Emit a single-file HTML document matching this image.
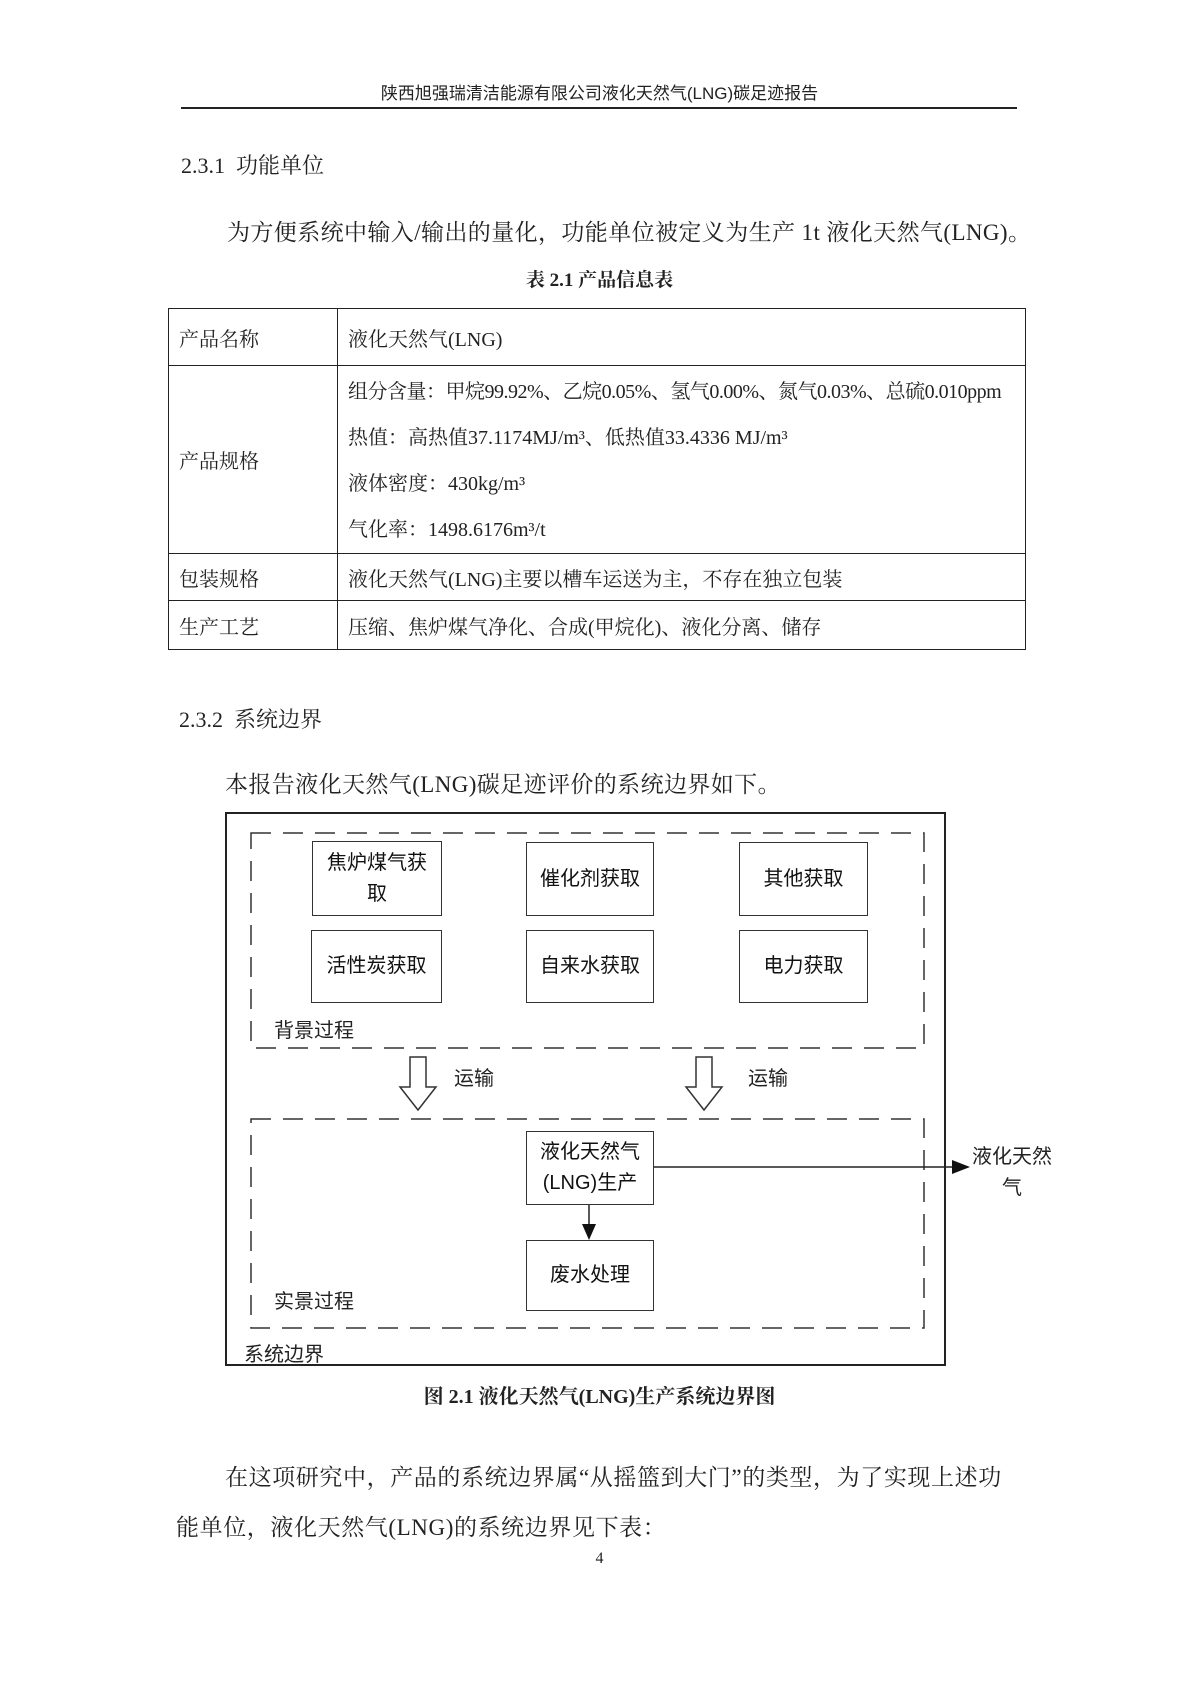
<!DOCTYPE html>
<html><head><meta charset="utf-8"><style>
body{margin:0;width:1199px;height:1696px;background:#fff;position:relative;overflow:hidden;font-family:"Liberation Serif","Noto Serif CJK SC",serif;color:#222}
.a{position:absolute;white-space:nowrap;line-height:1}
.s{font-family:"Liberation Sans","Noto Sans CJK SC",sans-serif}
.box{position:absolute;border:1.5px solid #333;box-sizing:border-box;display:flex;align-items:center;justify-content:center;text-align:center;font-family:"Liberation Sans","Noto Sans CJK SC",sans-serif;font-size:20px;line-height:31px;color:#111;background:#fff}
table{position:absolute;left:168px;top:308px;width:858px;border-collapse:collapse;font-size:20px;table-layout:fixed}
td{border:1.5px solid #222;padding:0 10px;vertical-align:middle;white-space:nowrap;overflow:hidden}
</style></head><body>
<div class="a s" style="left:0;width:1199px;text-align:center;top:85px;font-size:17px">陕西旭强瑞清洁能源有限公司液化天然气(LNG)碳足迹报告</div>
<div class="a" style="left:181px;top:107px;width:836px;border-top:2px solid #222"></div>
<div class="a" style="left:181px;top:155px;font-size:22px">2.3.1&nbsp; 功能单位</div>
<div class="a" style="left:227px;top:221px;font-size:23px;letter-spacing:0.4px">为方便系统中输入/输出的量化，功能单位被定义为生产 1t 液化天然气(LNG)。</div>
<div class="a" style="left:0;width:1199px;text-align:center;top:271px;font-size:19px;font-weight:bold">表 2.1 产品信息表</div>
<table>
<tr style="height:57px"><td style="width:148px">产品名称</td><td>液化天然气(LNG)</td></tr>
<tr style="height:188px"><td>产品规格</td><td style="line-height:46px;padding-top:2px"><span style="font-size:20px;letter-spacing:-0.5px">组分含量：甲烷99.92%、乙烷0.05%、氢气0.00%、氮气0.03%、总硫0.010ppm</span><br>热值：高热值37.1174MJ/m³、低热值33.4336 MJ/m³<br>液体密度：430kg/m³<br>气化率：1498.6176m³/t</td></tr>
<tr style="height:47px"><td>包装规格</td><td>液化天然气(LNG)主要以槽车运送为主，不存在独立包装</td></tr>
<tr style="height:49px"><td>生产工艺</td><td>压缩、焦炉煤气净化、合成(甲烷化)、液化分离、储存</td></tr>
</table>
<div class="a" style="left:179px;top:709px;font-size:22px">2.3.2&nbsp; 系统边界</div>
<div class="a" style="left:225px;top:773px;font-size:23px;letter-spacing:0.4px">本报告液化天然气(LNG)碳足迹评价的系统边界如下。</div>

<svg class="a" style="left:0;top:0" width="1199" height="1696">
<rect x="226" y="813" width="719" height="552" fill="none" stroke="#222" stroke-width="2"/>
<rect x="251" y="833" width="673" height="215" fill="none" stroke="#333" stroke-width="1.5" stroke-dasharray="20 12"/>
<rect x="251" y="1119" width="673" height="209" fill="none" stroke="#333" stroke-width="1.5" stroke-dasharray="20 12"/>
<polygon points="410,1057 426,1057 426,1087 436,1087 418,1110 400,1087 410,1087" fill="#fff" stroke="#333" stroke-width="1.5"/>
<polygon points="696,1057 712,1057 712,1087 722,1087 704,1110 686,1087 696,1087" fill="#fff" stroke="#333" stroke-width="1.5"/>
<line x1="653" y1="1167" x2="955" y2="1167" stroke="#222" stroke-width="1.5"/>
<polygon points="952,1160 970,1167 952,1174" fill="#111"/>
<line x1="589" y1="1204" x2="589" y2="1226" stroke="#222" stroke-width="1.5"/>
<polygon points="582,1224 596,1224 589,1240" fill="#111"/>
</svg>

<div class="box" style="left:312px;top:841px;width:130px;height:75px">焦炉煤气获<br>取</div>
<div class="box" style="left:526px;top:842px;width:128px;height:74px">催化剂获取</div>
<div class="box" style="left:739px;top:842px;width:129px;height:74px">其他获取</div>
<div class="box" style="left:311px;top:930px;width:131px;height:73px">活性炭获取</div>
<div class="box" style="left:526px;top:930px;width:128px;height:73px">自来水获取</div>
<div class="box" style="left:739px;top:930px;width:129px;height:73px">电力获取</div>
<div class="a s" style="left:274px;top:1021px;font-size:20px;background:#fff">背景过程</div>
<div class="a s" style="left:454px;top:1069px;font-size:20px">运输</div>
<div class="a s" style="left:748px;top:1069px;font-size:20px">运输</div>

<div class="box" style="left:526px;top:1131px;width:128px;height:74px">液化天然气<br>(LNG)生产</div>
<div class="box" style="left:526px;top:1240px;width:128px;height:71px">废水处理</div>
<div class="a s" style="left:274px;top:1292px;font-size:20px">实景过程</div>
<div class="a s" style="left:244px;top:1345px;font-size:20px">系统边界</div>
<div class="a s" style="left:972px;top:1142px;font-size:20px;line-height:31px;text-align:center">液化天然<br>气</div>

<div class="a" style="left:0;width:1199px;text-align:center;top:1387px;font-size:20px;font-weight:bold">图 2.1 液化天然气(LNG)生产系统边界图</div>
<div class="a" style="left:225px;top:1466px;font-size:23px;letter-spacing:0.6px">在这项研究中，产品的系统边界属“从摇篮到大门”的类型，为了实现上述功</div>
<div class="a" style="left:176px;top:1516px;font-size:23px;letter-spacing:0.6px">能单位，液化天然气(LNG)的系统边界见下表：</div>
<div class="a" style="left:0;width:1199px;text-align:center;top:1551px;font-size:16px">4</div>
</body></html>
